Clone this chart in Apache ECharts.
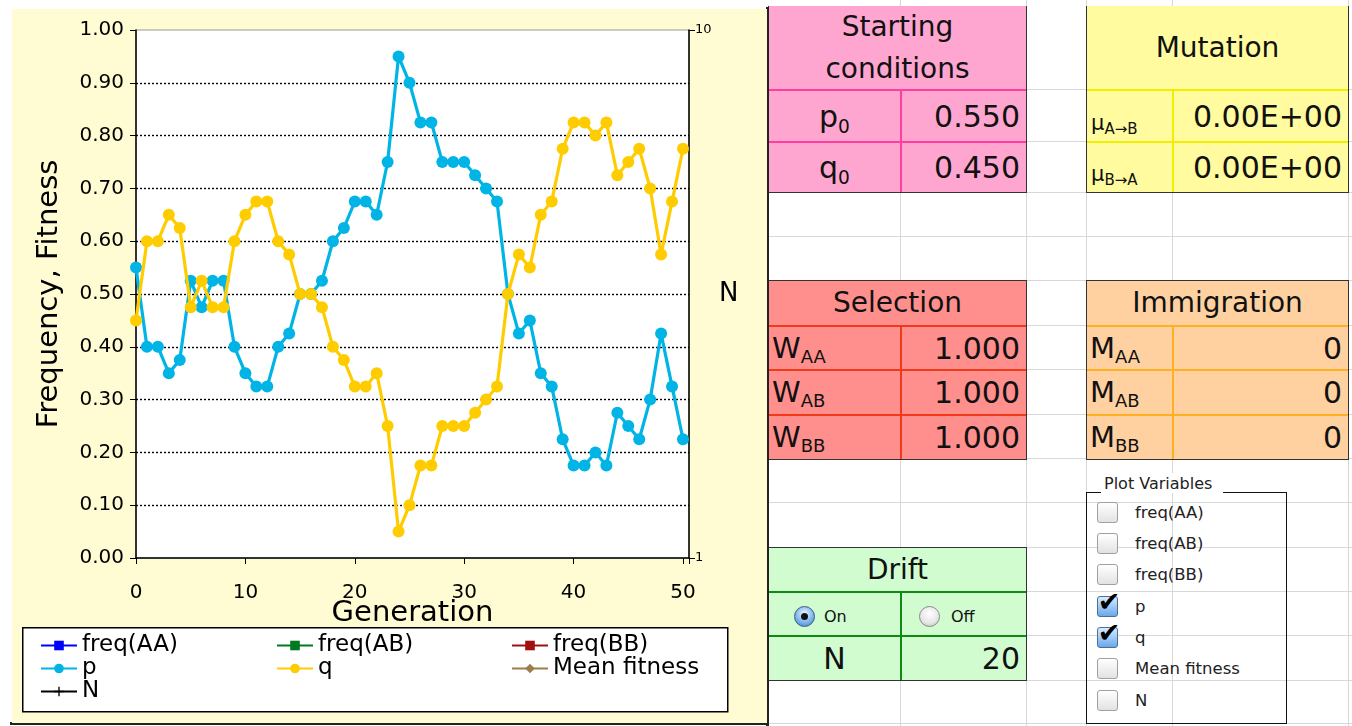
<!DOCTYPE html>
<html>
<head>
<meta charset="utf-8">
<script src="https://cdn.jsdelivr.net/npm/echarts@6/dist/echarts.min.js"></script>
<style>
  html, body { margin:0; padding:0; }
  body { width:1352px; height:726px; position:relative; overflow:hidden; background:#fff; font-family:'DejaVu Sans', sans-serif; color:#111; }
  #sheet { position:absolute; left:0; top:0; width:1352px; height:726px; }
  #panel { position:absolute; left:12px; top:9px; width:755px; height:714px; background:#FFFCD4; }
  #chart { position:absolute; left:0; top:0; width:770px; height:726px; }
  sub.s { font-size:0.62em; vertical-align:-0.3em; line-height:0; }
</style>
</head>
<body>
<div id="sheet"></div>
<div id="panel"></div>
<div id="chart"></div>
<script>
// ---------- data ----------
const generations = [0,1,2,3,4,5,6,7,8,9,10,11,12,13,14,15,16,17,18,19,20,21,22,23,24,25,26,27,28,29,30,31,32,33,34,35,36,37,38,39,40,41,42,43,44,45,46,47,48,49,50];
const pFreq = [0.550,0.400,0.400,0.350,0.375,0.525,0.475,0.525,0.525,0.400,
               0.350,0.325,0.325,0.400,0.425,0.500,0.500,0.525,0.600,0.625,
               0.675,0.675,0.650,0.750,0.950,0.900,0.825,0.825,0.750,0.750,
               0.750,0.725,0.700,0.675,0.500,0.425,0.450,0.350,0.325,0.225,
               0.175,0.175,0.200,0.175,0.275,0.250,0.225,0.300,0.425,0.325,0.225];
const qFreq = [0.450,0.600,0.600,0.650,0.625,0.475,0.525,0.475,0.475,0.600,
               0.650,0.675,0.675,0.600,0.575,0.500,0.500,0.475,0.400,0.375,
               0.325,0.325,0.350,0.250,0.050,0.100,0.175,0.175,0.250,0.250,
               0.250,0.275,0.300,0.325,0.500,0.575,0.550,0.650,0.675,0.775,
               0.825,0.825,0.800,0.825,0.725,0.750,0.775,0.700,0.575,0.675,0.775];
const legendCol1 = ['freq(AA)','p','N'];
const legendCol2 = ['freq(AB)','q'];
const legendCol3 = ['freq(BB)','Mean fitness'];
const plotVariables = ['freq(AA)','freq(AB)','freq(BB)','p','q','Mean fitness','N'];
const plotChecked = [false,false,false,true,true,false,false];

// ---------- spreadsheet (HTML) ----------
const sheet = document.getElementById('sheet');
function box(x,y,w,h,css){const d=document.createElement('div');d.style.cssText=`position:absolute;left:${x}px;top:${y}px;width:${w}px;height:${h}px;box-sizing:border-box;`+(css||'');sheet.appendChild(d);return d;}
function txt(x,y,w,h,html,css){const d=box(x,y,w,h,'display:flex;align-items:center;white-space:nowrap;'+(css||''));d.innerHTML='<span>'+html+'</span>';return d;}

// grid lines
[900,1026,1086,1172,1348].forEach(x=>box(x,0,1,726,'background:#D8D8D8'));
[89,141,192,236,280,325,369,414,458,502,547,591,635,680,723].forEach(y=>box(769,y,583,1,'background:#D8D8D8'));

// Starting conditions
box(768,6,259,187,'background:#FFA6D0;border:1.5px solid #333;border-top:none');
box(769,89,257,1.5,'background:#FF3FA0');box(769,141,257,1.5,'background:#FF3FA0');box(900,89,1.5,103,'background:#FF3FA0');
txt(768,6,259,83,'Starting<br>conditions','justify-content:center;text-align:center;font-size:28px;line-height:42px');
txt(769,91,131,50,'p<sub class="s">0</sub>','justify-content:center;font-size:30px');
txt(769,142,131,50,'q<sub class="s">0</sub>','justify-content:center;font-size:30px');
txt(901,91,125,50,'0.550','justify-content:flex-end;padding-right:6px;font-size:30px');
txt(901,142,125,50,'0.450','justify-content:flex-end;padding-right:6px;font-size:30px');

// Mutation
box(1086,6,263,187,'background:#FFFB9E;border:1.5px solid #333;border-top:none');
box(1087,89,261,1.5,'background:#F2EE00');box(1087,141,261,1.5,'background:#F2EE00');box(1172,89,1.5,103,'background:#F2EE00');
txt(1086,6,263,83,'Mutation','justify-content:center;font-size:28px');
txt(1088,91,84,50,'<span style="font-size:21px">μ</span><span style="font-size:15px;position:relative;top:4px">A→B</span>','align-items:flex-end;padding-bottom:6px;padding-left:3px');
txt(1088,142,84,50,'<span style="font-size:21px">μ</span><span style="font-size:15px;position:relative;top:4px">B→A</span>','align-items:flex-end;padding-bottom:6px;padding-left:3px');
txt(1173,91,175,50,'0.00E+00','justify-content:flex-end;padding-right:6px;font-size:30px');
txt(1173,142,175,50,'0.00E+00','justify-content:flex-end;padding-right:6px;font-size:30px');

// Selection
box(768,280,259,180,'background:#FF8F8C;border:1.5px solid #333');
[325,369,414].forEach(y=>box(769,y,257,1.5,'background:#F03A1A'));box(900,325,1.5,134,'background:#F03A1A');
txt(768,280,259,45,'Selection','justify-content:center;font-size:28px');
[['AA',326],['AB',370],['BB',415]].forEach(([s,y])=>{
  txt(770,y,130,44,'W<sub class="s">'+s+'</sub>','font-size:29px;padding-left:2px');
  txt(901,y,125,44,'1.000','justify-content:flex-end;padding-right:6px;font-size:30px');
});

// Immigration
box(1086,280,263,180,'background:#FFD1A0;border:1.5px solid #333');
[325,369,414].forEach(y=>box(1087,y,261,1.5,'background:#FFB020'));box(1172,325,1.5,134,'background:#FFB020');
txt(1086,280,263,45,'Immigration','justify-content:center;font-size:28px');
[['AA',326],['AB',370],['BB',415]].forEach(([s,y])=>{
  txt(1088,y,84,44,'M<sub class="s">'+s+'</sub>','font-size:29px;padding-left:2px');
  txt(1173,y,175,44,'0','justify-content:flex-end;padding-right:6px;font-size:30px');
});

// Drift
box(768,547,259,134,'background:#D0FCD0;border:1.5px solid #333');
[591,635].forEach(y=>box(769,y,257,1.5,'background:#108A10'));box(900,591,1.5,89,'background:#108A10');
txt(768,547,259,44,'Drift','justify-content:center;font-size:28px');
box(794,606,21,21,'border-radius:50%;border:1px solid #3a5a80;background:radial-gradient(circle at 50% 35%, #eef7ff 0%, #7fb6ec 55%, #3b78c8 100%)');
box(801,613,7,7,'border-radius:50%;background:#111');
txt(824,603,40,26,'On','font-size:16px');
box(919,606,21,21,'border-radius:50%;border:1px solid #8a8a8a;background:radial-gradient(circle at 50% 35%, #ffffff 0%, #e6e6e6 60%, #b8b8b8 100%)');
txt(951,603,40,26,'Off','font-size:16px');
txt(769,636,131,44,'N','justify-content:center;font-size:30px');
txt(901,636,125,44,'20','justify-content:flex-end;padding-right:6px;font-size:30px');

// Plot Variables group box
box(1086,492,201,232,'border:1.5px solid #111');
txt(1101,473,122,20,'Plot Variables','font-size:16px;background:#fff;padding:0 3px;color:#222');
const rowsY = [512,543,574,606,637,668,700];
plotVariables.forEach((name,i)=>{
  const cy = rowsY[i];
  if (plotChecked[i]) {
    box(1097,cy-10,21,21,'border:1px solid #4a6f99;border-radius:3px;background:linear-gradient(#d8ecff,#6aa8ea)');
    txt(1095,cy-20,28,30,'✔','font-size:27px;color:#000;justify-content:center');
  } else {
    box(1097,cy-10,21,21,'border:1px solid #a0a0a0;border-radius:3px;background:linear-gradient(#ffffff,#e2e2e2)');
  }
  txt(1135,cy-11,150,22,name,'font-size:16.5px;color:#222');
});

// chart frame lines
box(766,7,2.5,719,'background:#222');
box(10,722,758,2.5,'background:#222');

// ---------- chart ----------
const chart = echarts.init(document.getElementById('chart'), null, {renderer:'canvas'});
const pData = generations.map((g,i)=>[g,pFreq[i]]);
const qData = generations.map((g,i)=>[g,qFreq[i]]);
const legendCommon = {
  orient:'vertical', top:634, itemWidth:36, itemHeight:12, itemGap:0, padding:0,
  selectedMode:false, textStyle:{fontSize:23, color:'#000', lineHeight:21.5, fontFamily:'DejaVu Sans'}
};
const option = {
  animation:false,
  textStyle:{fontFamily:'DejaVu Sans'},
  graphic:[{type:'rect', left:22, top:627, shape:{width:705, height:84}, style:{fill:'#fff', stroke:'#000', lineWidth:1.5}, z:0}],
  legend:[
    Object.assign({left:40, data:legendCol1}, legendCommon),
    Object.assign({left:276, data:legendCol2}, legendCommon),
    Object.assign({left:511, data:legendCol3}, legendCommon)
  ],
  grid:{left:136, top:30, width:553, height:528, show:true, backgroundColor:'#fff', borderColor:'#999', borderWidth:1, outerBoundsMode:'none'},
  xAxis:{
    type:'value', min:0, max:50.55, interval:10,
    axisLine:{show:true, onZero:false, lineStyle:{color:'#000', width:1.5}},
    axisTick:{show:true, length:6, lineStyle:{color:'#000', width:1}},
    axisLabel:{fontSize:20, color:'#000', margin:25, formatter:v=>(Math.abs(v%10)<1e-9 ? String(v) : '')},
    splitLine:{show:false},
    name:'Generation', nameLocation:'middle', nameGap:41, nameMoveOverlap:false, nameTextStyle:{fontSize:29, color:'#000'}
  },
  yAxis:[
    {
      type:'value', min:0, max:1, interval:0.1, position:'left',
      axisLine:{show:true, lineStyle:{color:'#000', width:1.5}},
      axisTick:{show:true, length:6, lineStyle:{color:'#000', width:1}},
      axisLabel:{fontSize:20, color:'#000', margin:12, formatter:v=>v.toFixed(2)},
      splitLine:{show:true, showMinLine:false, showMaxLine:false, lineStyle:{color:'#000', width:1.4, type:[2,2]}},
      name:'Frequency, Fitness', nameLocation:'middle', nameGap:72, nameMoveOverlap:false, nameTextStyle:{fontSize:29, color:'#000'}
    },
    {
      type:'log', logBase:10, min:1, max:10, position:'right',
      axisLine:{show:true, lineStyle:{color:'#000', width:1.5}},
      axisTick:{show:true, length:6, lineStyle:{color:'#000', width:1}},
      axisLabel:{fontSize:13, color:'#000', margin:6},
      splitLine:{show:false}, minorTick:{show:false},
      name:'N', nameLocation:'middle', nameRotate:0, nameGap:30, nameMoveOverlap:false, nameTextStyle:{fontSize:26, color:'#000'}
    }
  ],
  series:[
    {name:'freq(AA)', type:'line', data:[], color:'#0000FF', symbol:'rect', symbolSize:7, lineStyle:{width:1.5}},
    {name:'freq(AB)', type:'line', data:[], color:'#007A1E', symbol:'rect', symbolSize:7, lineStyle:{width:1.5}},
    {name:'freq(BB)', type:'line', data:[], color:'#A01010', symbol:'rect', symbolSize:7, lineStyle:{width:1.5}},
    {name:'p', type:'line', data:pData, color:'#00B4E6', symbol:'circle', symbolSize:12, lineStyle:{width:3.2}, emphasis:{disabled:true}, z:3},
    {name:'q', type:'line', data:qData, color:'#FFCC00', symbol:'circle', symbolSize:12, lineStyle:{width:3.2}, emphasis:{disabled:true}, z:4},
    {name:'Mean fitness', type:'line', data:[], color:'#9C7E4C', symbol:'diamond', symbolSize:10, lineStyle:{width:3}},
    {name:'N', type:'line', yAxisIndex:1, data:[], color:'#000', symbol:'path://M4.3,0h1.4v10h-1.4z M0,4.3h10v1.4h-10z', symbolSize:8, lineStyle:{width:1}}
  ]
};
chart.setOption(option);
</script>
</body>
</html>
